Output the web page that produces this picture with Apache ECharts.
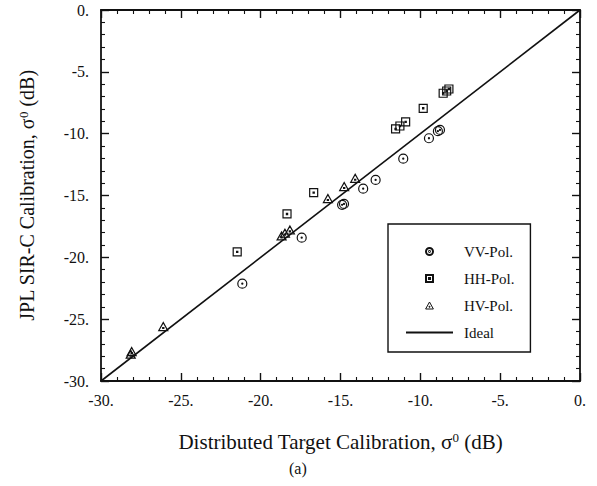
<!DOCTYPE html>
<html>
<head>
<meta charset="utf-8">
<script src="https://cdn.jsdelivr.net/npm/echarts@6/dist/echarts.min.js"></script>
<style>
  html, body { margin: 0; padding: 0; background: #fff; }
  #chart { width: 597px; height: 486px; }
</style>
</head>
<body>
<div id="chart"></div>
<script>
// VV-Pol. points (distributed target vs JPL calibration, dB)
const vvX = [-8.77, -8.9, -9.46, -11.07, -12.8, -13.58, -14.78, -14.9, -17.43, -21.15];
const vvY = [-9.7, -9.8, -10.37, -12.02, -13.74, -14.45, -15.68, -15.75, -18.41, -22.13];
// HH-Pol.
const hhX = [-8.57, -8.35, -8.21, -9.82, -11.55, -11.28, -10.92, -16.68, -18.35, -21.47];
const hhY = [-6.73, -6.55, -6.39, -7.95, -9.62, -9.38, -9.05, -14.77, -16.49, -19.56];
// HV-Pol.
const hvX = [-14.08, -14.77, -15.79, -18.17, -18.48, -18.69, -26.1, -28.08, -28.14];
const hvY = [-13.61, -14.28, -15.25, -17.79, -18.05, -18.27, -25.6, -27.62, -27.83];
// ideal 1:1 line
const idealX = [-30, 0];
const idealY = [-30, 0];

const axisMin = -30, axisMax = 0, axisStep = 5;

const font = 'Liberation Serif';
const pair = (xs, ys) => xs.map((x, i) => [x, ys[i]]);

// symbols with a dot in the middle, like the scan
const circleDot = 'path://M0,10 A10,10 0 1,0 20,10 A10,10 0 1,0 0,10 Z M8.8,10 A1.2,1.2 0 1,0 11.2,10 A1.2,1.2 0 1,0 8.8,10 Z';
const squareDot = 'path://M0,0 L20,0 L20,20 L0,20 Z M8.5,8.5 L11.5,8.5 L11.5,11.5 L8.5,11.5 Z';
const triDot = 'path://M10,0 L20,18 L0,18 Z M8.8,11 L11.2,11 L11.2,13.4 L8.8,13.4 Z';

const markStyle = { color: 'rgba(0,0,0,0)', borderColor: '#111', borderWidth: 1.2, opacity: 1 };

function valueAxis(pos, showLabel) {
  return {
    type: 'value',
    position: pos,
    min: axisMin,
    max: axisMax,
    interval: axisStep,
    axisLine: { show: true, onZero: false, lineStyle: { color: '#111', width: 1.8 } },
    axisTick: { show: true, inside: true, length: 8, lineStyle: { color: '#111', width: 1.4 } },
    minorTick: { show: true, splitNumber: 5, length: 4, lineStyle: { color: '#111', width: 1.1 } },
    splitLine: { show: false },
    axisLabel: {
      show: showLabel,
      color: '#111',
      fontFamily: font,
      fontSize: 16,
      margin: 11,
      formatter: v => v + '.'
    }
  };
}

const chart = echarts.init(document.getElementById('chart'), null, { renderer: 'svg' });

const xBottom = valueAxis('bottom', true);
xBottom.name = 'Distributed Target Calibration, σ{s|0} (dB)';
xBottom.nameLocation = 'middle';
xBottom.nameGap = 50;
xBottom.nameTextStyle = {
  color: '#111', fontFamily: font, fontSize: 21,
  rich: { s: { fontFamily: font, fontSize: 13, verticalAlign: 'top', color: '#111' } }
};

const yLeft = valueAxis('left', true);
yLeft.axisLabel.margin = 12;
yLeft.name = 'JPL SIR-C Calibration, σ{s|0} (dB)';
yLeft.nameLocation = 'middle';
yLeft.nameGap = 64;
yLeft.nameTextStyle = {
  color: '#111', fontFamily: font, fontSize: 20,
  rich: { s: { fontFamily: font, fontSize: 13, verticalAlign: 'top', color: '#111' } }
};

const option = {
  animation: false,
  backgroundColor: '#fff',
  grid: { left: 101, right: 17, top: 10, bottom: 105, containLabel: false },
  xAxis: [xBottom, valueAxis('top', false)],
  yAxis: [yLeft, valueAxis('right', false)],
  legend: {
    orient: 'vertical',
    left: 388,
    top: 224,
    padding: [20, 16, 12, 17],
    itemGap: 12,
    itemWidth: 47,
    itemHeight: 7,
    borderColor: '#111',
    borderWidth: 1.4,
    backgroundColor: '#fff',
    symbolKeepAspect: true,
    textStyle: { color: '#111', fontFamily: font, fontSize: 15, padding: [0, 0, 0, 6] },
    data: [
      'VV-Pol.',
      'HH-Pol.',
      { name: 'HV-Pol.', itemStyle: { borderWidth: 1 } },
      { name: 'Ideal', itemStyle: { opacity: 0 } }
    ]
  },
  graphic: [
    {
      type: 'text',
      left: 289,
      top: 460,
      style: { text: '(a)', fill: '#111', font: '16px "Liberation Serif"' }
    }
  ],
  series: [
    {
      name: 'VV-Pol.',
      type: 'scatter',
      symbol: circleDot,
      symbolSize: 9,
      itemStyle: markStyle,
      data: pair(vvX, vvY)
    },
    {
      name: 'HH-Pol.',
      type: 'scatter',
      symbol: squareDot,
      symbolSize: 8,
      itemStyle: markStyle,
      data: pair(hhX, hhY)
    },
    {
      name: 'HV-Pol.',
      type: 'scatter',
      symbol: triDot,
      symbolSize: [9, 8],
      itemStyle: markStyle,
      data: pair(hvX, hvY)
    },
    {
      name: 'Ideal',
      type: 'line',
      symbol: 'none',
      lineStyle: { color: '#111', width: 1.6 },
      itemStyle: { color: '#111' },
      data: pair(idealX, idealY),
      z: 1
    }
  ]
};

chart.setOption(option);
</script>
</body>
</html>
